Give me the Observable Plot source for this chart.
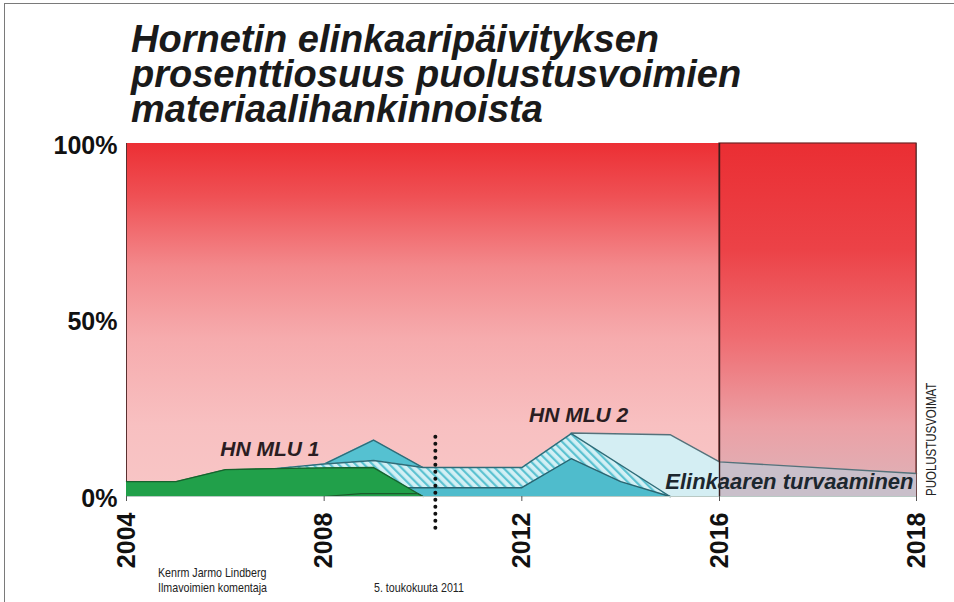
<!DOCTYPE html>
<html>
<head>
<meta charset="utf-8">
<script src="https://cdn.jsdelivr.net/npm/d3@7"></script>
<script src="https://cdn.jsdelivr.net/npm/@observablehq/plot@0.6"></script>
<style>
  html, body { margin: 0; padding: 0; background: #fff; }
  #wrap { position: relative; width: 954px; height: 602px; overflow: hidden; font-family: "Liberation Sans", Arial, sans-serif; }
  #frame { position: absolute; left: 4px; top: 3px; width: 960px; height: 610px; border-top: 1.5px solid #7a7a7a; border-left: 1.5px solid #7a7a7a; box-sizing: border-box; }
  #chart { position: absolute; left: 0; top: 0; }
  .tl { position: absolute; left: 131px; margin: 0; font-size: 38px; line-height: 35px; height: 35px; font-weight: bold; font-style: italic; color: #1a1a1a; white-space: nowrap; }
  .credit { position: absolute; font-size: 13px; line-height: 15px; color: #222; white-space: nowrap; transform-origin: 0 0; transform: scaleX(0.82); }
  #source { position: absolute; left: 925px; top: 496px; transform-origin: 0 0; transform: rotate(-90deg) scaleX(0.82); font-size: 14px; line-height: 13px; color: #222; white-space: nowrap; }
</style>
</head>
<body>
<div id="wrap">
  <div id="frame"></div>
  <div id="chart"></div>
  <div class="tl" style="top:22px;">Hornetin elinkaaripäivityksen</div>
  <div class="tl" style="top:57px;">prosenttiosuus puolustusvoimien</div>
  <div class="tl" style="top:92px;">materiaalihankinnoista</div>
  <div class="credit" style="left:158px; top:565px;">Kenrm Jarmo Lindberg<br>Ilmavoimien komentaja</div>
  <div class="credit" style="left:374px; top:580px;">5. toukokuuta 2011</div>
  <div id="source">PUOLUSTUSVOIMAT</div>
</div>
<script>
// ---- data (percent share of materiel procurement) ----
const mlu1Years   = [2004, 2005, 2006, 2007, 2008, 2009, 2010];
const mlu1Share   = [4.2, 4.2, 7.6, 7.9, 8.1, 8.2, 0];

const peakYears   = [2008, 2009, 2010];
const peakShare   = [9.2, 16.0, 8.2];

const hatchYears  = [2007, 2008, 2009, 2010, 2011, 2012, 2013, 2015];
const hatchShare  = [7.9, 9.2, 10.2, 8.2, 8.2, 8.2, 17.8, 0];

const tealYears   = [2009, 2010, 2011, 2012, 2013, 2014, 2015];
const tealShare   = [2.5, 2.5, 2.5, 2.5, 10.7, 4.2, 0];

const lifeYears   = [2012, 2013, 2015, 2016, 2018];
const lifeShare   = [0, 18.0, 17.5, 9.8, 6.5];

const minorYears  = [2008, 2008.75, 2009.9, 2010];
const minorShare  = [0, 0.8, 0.8, 0];

const panelStart  = [2004, 2016];
const panelEnd    = [2016, 2018];

const xTicks      = [2004, 2008, 2012, 2016, 2018];
const yTicks      = [0, 50, 100];

const nowYear     = [2010.25];
const nowRange    = [-9, 18];

const labelText   = ["HN MLU 1", "HN MLU 2"];
const labelYear   = [2006.9, 2013.15];
const labelShare  = [13.3, 23];

const lifeLabel      = ["Elinkaaren turvaaminen"];
const lifeLabelYear  = [2018];
const lifeLabelShare = [4];

// ---- helpers ----
const rows = (xs, ys) => xs.map((x, i) => ({x, y: ys[i]}));
const mlu1 = rows(mlu1Years, mlu1Share);
const peak = rows(peakYears, peakShare);
const hatch = rows(hatchYears, hatchShare);
const teal = rows(tealYears, tealShare);
const life = rows(lifeYears, lifeShare);
const lifeLeft = life.filter(d => d.x <= 2016);
const lifeRight = life.filter(d => d.x >= 2016);
const minor = rows(minorYears, minorShare);
const panels = panelStart.map((s, i) => ({x1: s, x2: panelEnd[i], id: i}));
const labels = labelText.map((t, i) => ({t, x: labelYear[i], y: labelShare[i]}));
const lifeLab = lifeLabel.map((t, i) => ({t, x: lifeLabelYear[i], y: lifeLabelShare[i]}));

const chart = Plot.plot({
  width: 954,
  height: 602,
  marginLeft: 126,
  marginRight: 38,
  marginTop: 143,
  marginBottom: 106,
  style: {fontFamily: "'Liberation Sans', Arial, sans-serif", background: "transparent", color: "#111"},
  x: {type: "linear", domain: [2004, 2016, 2018], range: [126, 719, 916], label: null},
  y: {type: "linear", domain: [0, 100], range: [496, 143], label: null},
  marks: [
    Plot.rect([panels[0]], {x1: "x1", x2: "x2", y1: 0, y2: 100, fill: "url(#gradLeft)"}),
    Plot.rect([panels[1]], {x1: "x1", x2: "x2", y1: 0, y2: 100, fill: "url(#gradRight)", stroke: "#6e2626", strokeWidth: 1.2}),
    Plot.ruleX([2004], {y1: 0, y2: 100, stroke: "#5a3030", strokeWidth: 1}),

    Plot.areaY(lifeLeft, {x: "x", y: "y", fill: "#d4eef3"}),
    Plot.areaY(lifeRight, {x: "x", y: "y", fill: "#c9bfca"}),
    Plot.lineY(life, {x: "x", y: "y", stroke: "#55717a", strokeWidth: 1.4}),

    Plot.areaY(peak, {x: "x", y: "y", fill: "#55c1d1"}),
    Plot.lineY(peak, {x: "x", y: "y", stroke: "#2f6c78", strokeWidth: 1.4}),

    Plot.areaY(hatch, {x: "x", y: "y", fill: "url(#hatch)"}),
    Plot.lineY(hatch, {x: "x", y: "y", stroke: "#2f6c78", strokeWidth: 1.4}),

    Plot.areaY(teal, {x: "x", y: "y", fill: "#4fbccc"}),
    Plot.lineY(teal, {x: "x", y: "y", stroke: "#2a6470", strokeWidth: 1.4}),

    Plot.areaY(mlu1, {x: "x", y: "y", fill: "#21a04a"}),
    Plot.lineY(mlu1, {x: "x", y: "y", stroke: "#17622e", strokeWidth: 1.4}),
    Plot.lineY(minor, {x: "x", y: "y", stroke: "#1c5a2c", strokeWidth: 1.2}),

    Plot.ruleX([2016], {y1: 0, y2: 100, stroke: "#3a1c1c", strokeWidth: 1.4}),
    Plot.ruleX([2018], {y1: 0, y2: 100, stroke: "#6e4a4a", strokeWidth: 1}),
    Plot.ruleY([0], {stroke: "#b9c9c4", strokeWidth: 1}),

    Plot.ruleX(nowYear, {y1: nowRange[0], y2: nowRange[1], stroke: "#111", strokeWidth: 4, strokeDasharray: "0 7", strokeLinecap: "round"}),

    Plot.text(labels, {x: "x", y: "y", text: "t", fontSize: 21, fontWeight: "bold", fontStyle: "italic", fill: "#2a1d22", textAnchor: "middle"}),
    Plot.text(lifeLab, {x: "x", y: "y", text: "t", dx: -3, fontSize: 22, fontWeight: "bold", fontStyle: "italic", fill: "#1c262e", textAnchor: "end"}),

    Plot.axisX(xTicks, {label: null, tickRotate: -90, tickSize: 5, tickPadding: 11, fontSize: 25, fontWeight: "bold", tickFormat: d => String(d), stroke: "#555"}),
    Plot.axisY(yTicks, {label: null, tickSize: 0, tickPadding: 9, fontSize: 25, fontWeight: "bold", dy: 2, tickFormat: d => d + "%"})
  ]
});

const ns = "http://www.w3.org/2000/svg";
const defs = document.createElementNS(ns, "defs");
defs.innerHTML = `
  <linearGradient id="gradLeft" x1="0" y1="0" x2="0" y2="1">
    <stop offset="0" stop-color="#ec2f34"/>
    <stop offset="0.15" stop-color="#ef5054"/>
    <stop offset="0.35" stop-color="#f3898c"/>
    <stop offset="0.55" stop-color="#f6abad"/>
    <stop offset="0.8" stop-color="#f8c0c1"/>
    <stop offset="1" stop-color="#f8c6c6"/>
  </linearGradient>
  <linearGradient id="gradRight" x1="0" y1="0" x2="0" y2="1">
    <stop offset="0" stop-color="#ea2e33"/>
    <stop offset="0.3" stop-color="#ec4247"/>
    <stop offset="0.55" stop-color="#ef6c71"/>
    <stop offset="0.8" stop-color="#eca0a5"/>
    <stop offset="1" stop-color="#dcb4ba"/>
  </linearGradient>
  <pattern id="hatch" width="6" height="6" patternUnits="userSpaceOnUse" patternTransform="rotate(-45)">
    <rect width="6" height="6" fill="#d3f0f5"/>
    <rect width="2.2" height="6" fill="#5cc2d1"/>
  </pattern>`;
chart.insertBefore(defs, chart.firstChild);
document.getElementById("chart").appendChild(chart);
</script>
</body>
</html>
